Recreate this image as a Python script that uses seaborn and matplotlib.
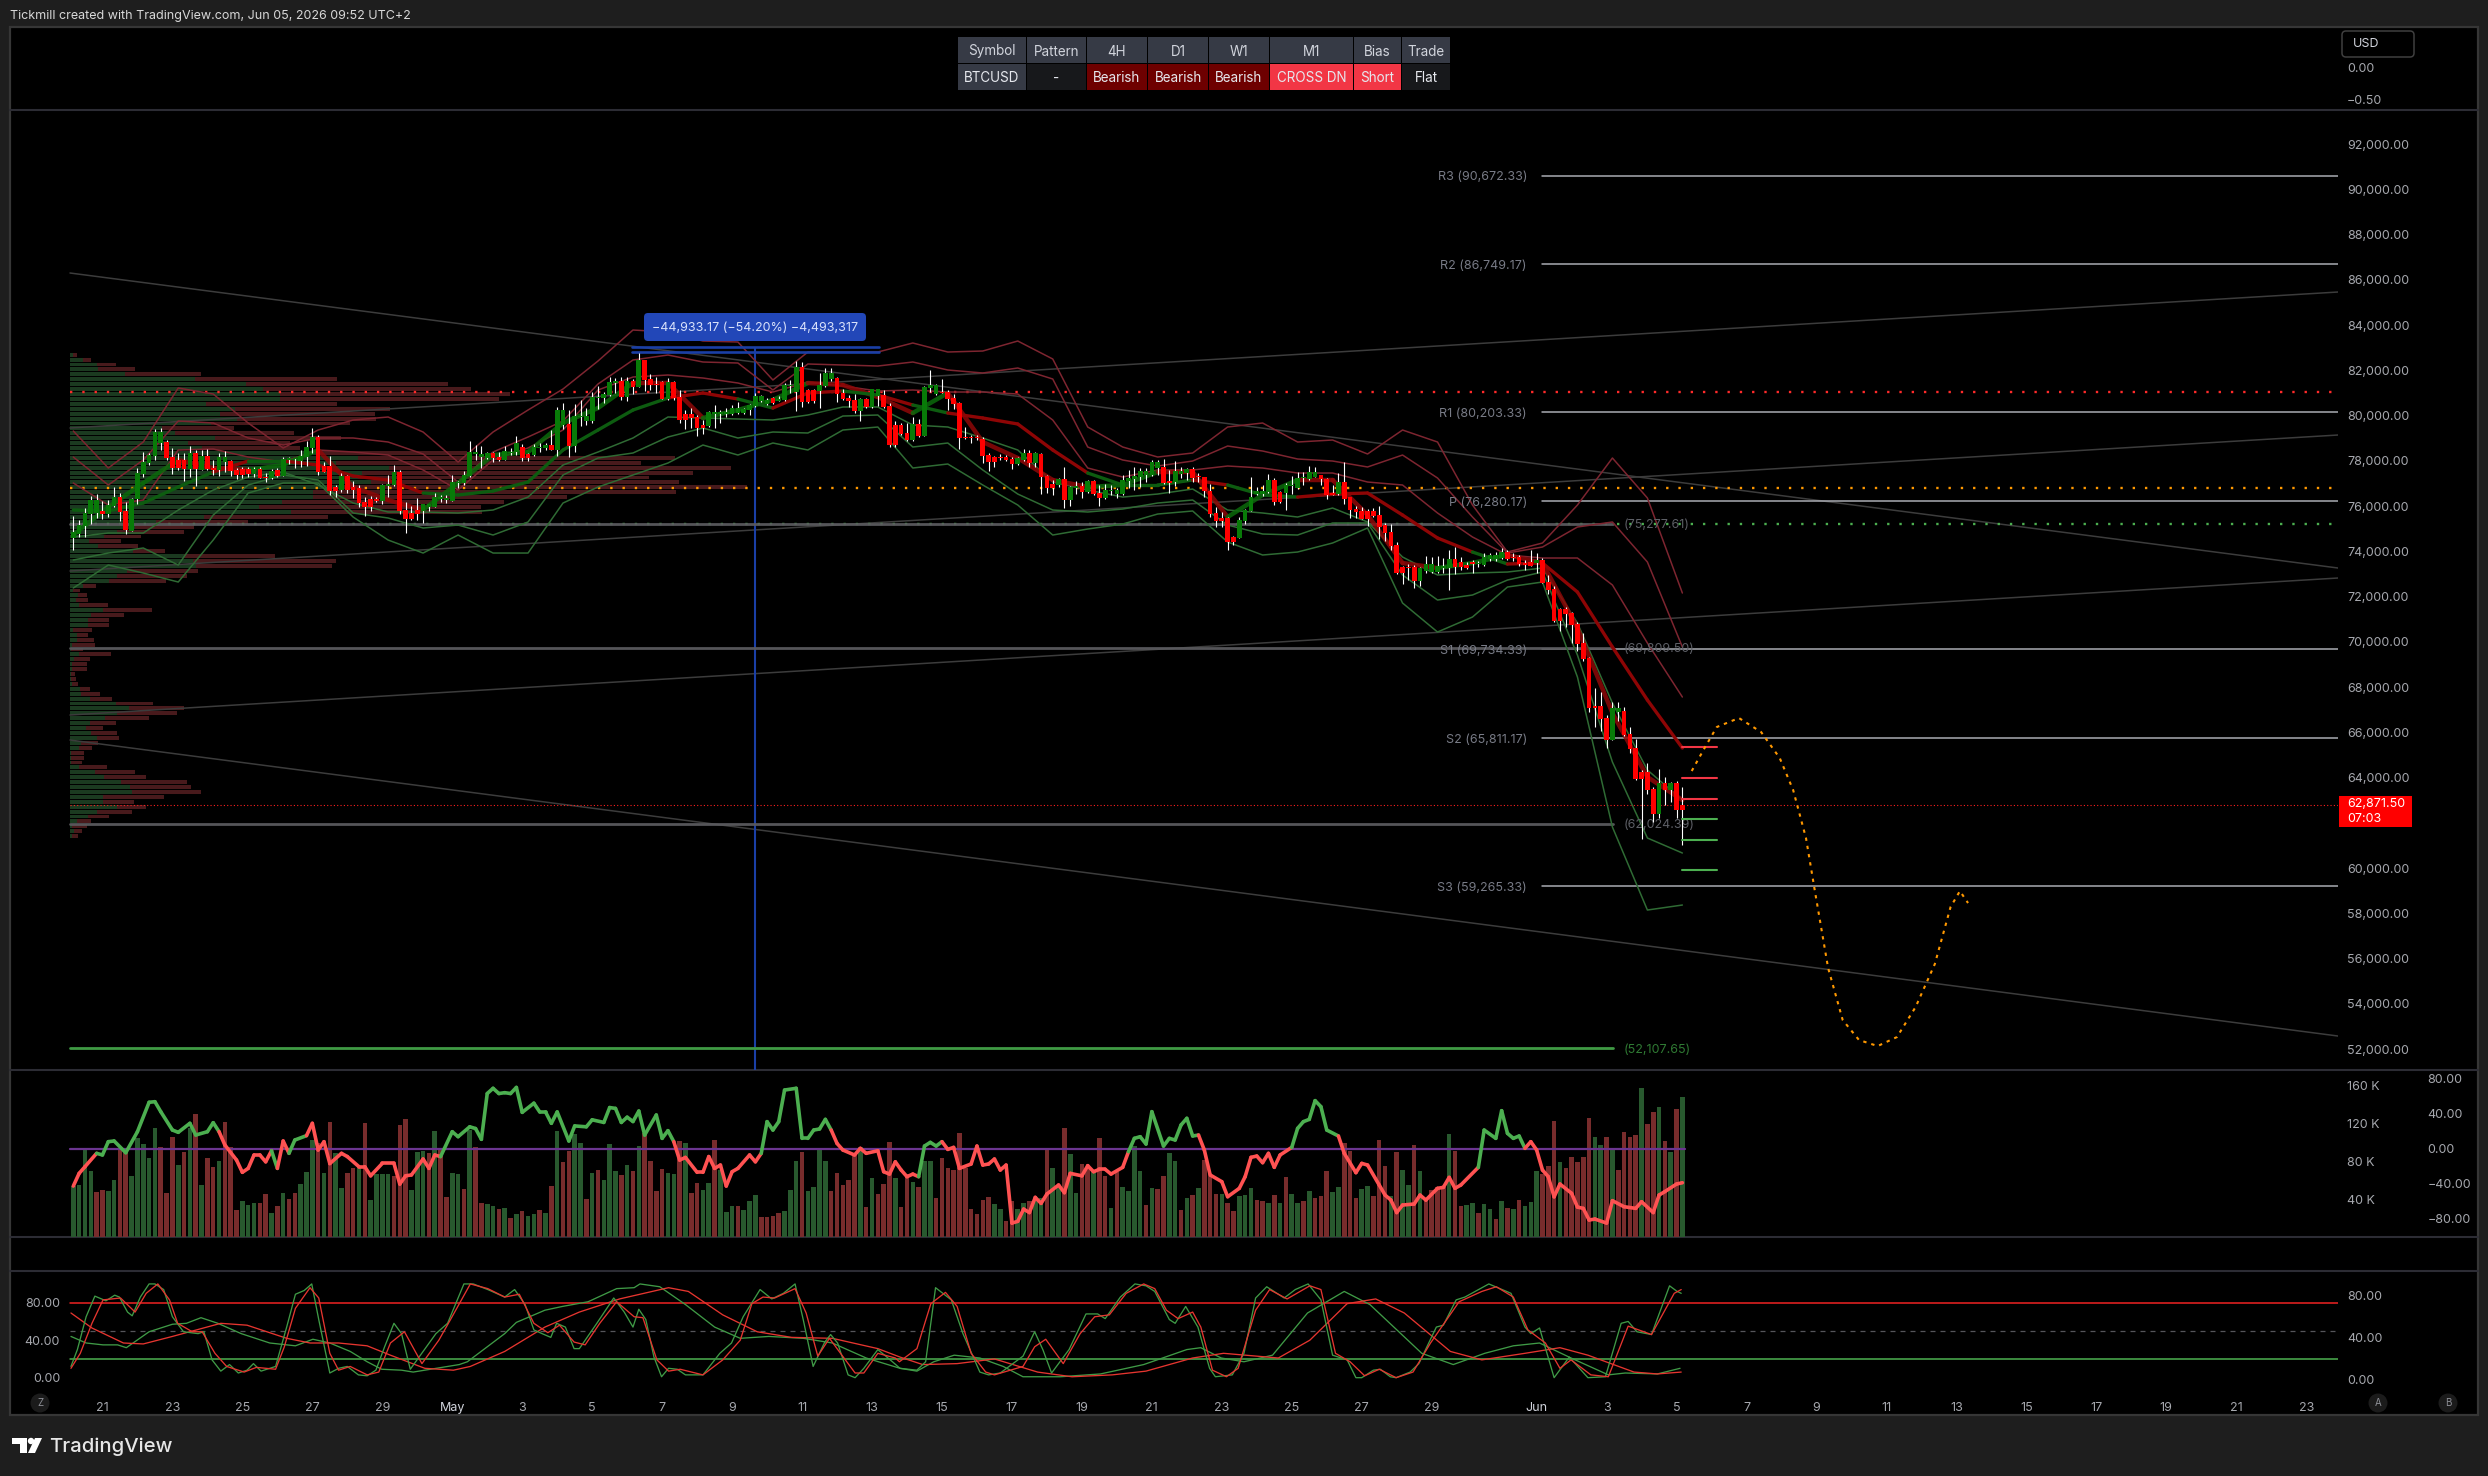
import numpy as np
import matplotlib
matplotlib.use("Agg")
import matplotlib.pyplot as plt
from matplotlib.collections import LineCollection
from matplotlib.patches import Rectangle, FancyBboxPatch, Polygon, Circle
from matplotlib.transforms import ScaledTranslation
import seaborn as sns

# ---- 4H candles, BTCUSD ----
body_open = [
74642,74819,75187,75718,75777,75850,75718,76071,76469,75850,
74952,76366,77485,77971,78281,78855,78899,78236,78104,78104,
77706,78413,77662,78281,77750,77662,78015,78045,77662,77706,
77706,77485,77706,77353,77309,77662,77397,78104,78133,78074,
78236,78634,79120,77839,77854,76911,76778,77397,76896,76867,
76248,76380,76366,76292,76955,77000,77574,75894,75762,75894,
75850,76027,76027,76380,76336,76292,77073,77073,77397,78369,
78222,78192,78428,78252,78104,78399,78458,78664,78369,78325,
78649,78649,78752,78546,79636,79695,78723,80005,79827,79827,
80829,80844,80991,81507,81595,80888,81595,81330,82523,81684,
81463,81551,80800,81551,80888,80137,80137,80005,79651,79607,
80137,80137,80137,80137,80166,80166,80314,80490,80726,80579,
80829,80726,80756,81374,81109,82199,81198,81198,81153,81374,
81684,81728,81065,80844,80756,80269,80800,80446,80932,80977,
80490,79651,79651,79297,78988,79695,79164,81286,81020,81109,
81109,80844,80623,79106,79106,79106,79032,78325,78236,78236,
78236,78148,77927,78104,78413,77971,78369,77397,77043,77000,
77264,76336,76866,76955,76675,77176,76646,76425,76719,76601,
76601,77176,77264,77353,77426,77441,77750,77794,77176,77132,
77485,77529,77706,77397,77338,76734,75762,75541,75541,74701,
74657,75408,75850,76601,76601,76675,77220,76690,76660,76955,
76866,77294,77250,77338,77427,77264,76631,76602,77132,76469,
75939,75850,75850,75850,75659,75232,74922,74348,73376,73376,
73376,72757,73199,73155,73155,73331,73331,73729,73597,73464,
73597,73494,73464,73729,73715,73759,74039,73832,73818,73553,
73597,73538,73685,72713,72404,71520,71520,71343,70857,70017,
69355,67233,67233,66703,65731,66968,67012,65996,65377,64317,
64317,63566,62461,63816,63521,63816,62871.5]
body_close = [
74907,75232,75747,76336,76336,75732,76115,76469,75806,75011,
76366,77529,78015,78325,79341,79341,78192,77750,77750,77706,
78413,77706,78281,77706,77662,78236,78236,77618,77426,77426,
77485,77706,77309,77309,77603,77397,78148,78177,78177,78281,
78678,79120,77574,77574,76734,76734,77397,76778,76778,76189,
76027,76027,76307,77000,77043,77574,75850,75497,75497,75732,
76159,76159,76469,76469,76425,77132,77132,77441,78457,78457,
78369,78399,78192,78119,78487,78458,78841,78192,78192,78664,
78693,78752,78546,80314,80314,78723,80049,80049,80049,80888,
80888,81021,81551,81595,80888,81595,81330,82523,81639,81418,
81418,80800,81551,80844,79872,79872,79960,79518,79518,80225,
80225,80225,80240,80402,80387,80343,80535,80932,80932,80756,
80638,80785,81418,81418,82199,80667,80667,80711,81418,81963,
81963,81021,80800,80711,80269,80800,80446,81242,81242,80446,
78767,78767,79253,78988,79695,79164,81330,81418,81418,81050,
80799,80579,79076,79076,79076,79076,78281,78015,78015,78192,
78104,77927,78192,78413,77971,78413,77353,76866,76866,77264,
76336,76911,76955,76690,77176,76601,76425,76778,76778,76778,
77220,77309,77397,77618,77618,78015,78015,77088,77088,77618,
77618,77706,77309,77338,76719,75718,75408,75408,74480,74480,
75452,75894,76469,76734,76734,77220,76248,76248,77000,77014,
77294,77338,77574,77574,77250,76558,76558,77132,76381,75895,
75806,75497,75497,75630,75144,74878,74304,73111,73111,73331,
72757,73331,73508,73508,73420,73420,73729,73376,73376,73331,
73508,73538,73818,73906,73906,74039,73729,73759,73508,73464,
73420,73685,72669,72360,70990,70990,71299,70813,69973,69311,
67145,67145,66659,65731,67145,67145,65952,65333,64008,64008,
63521,62461,63831,63521,63831,62638,62638]
wick_high = [
75644,75452,75968,76513,76601,76292,76336,76896,76631,76248,
76425,77736,78457,78398,79459,79503,78988,78634,78398,78398,
78723,78546,78546,78575,78104,78398,78502,78104,77750,77809,
77809,77809,77809,77515,77721,77736,78251,78222,78177,78546,
78944,79518,79209,78015,78281,77000,77515,77441,77176,77000,
76483,76513,76483,77043,77441,77883,77662,76248,76071,76425,
76159,76159,76631,76557,76557,77441,77176,77618,78944,78767,
78723,78472,78472,78472,78723,78620,79165,78811,78428,78811,
78870,78841,79430,80461,80608,80314,80564,80756,80387,81124,
81374,81124,81757,81713,81757,81757,81669,82818,82523,81905,
81787,81610,81713,81610,81198,80314,80387,80093,79872,80255,
80535,80314,80387,80535,80667,80387,80579,81080,80962,80829,
80873,80932,81522,81639,82494,82435,81227,81227,81934,82170,
82170,81787,81227,80977,81021,80844,80844,81256,81256,81198,
80608,79827,79754,79724,80019,79901,81374,82081,81462,81668,
81197,81020,80667,79577,79209,79209,79135,78398,78281,78369,
78310,78222,78222,78590,78546,78472,78428,77426,77220,77294,
77794,76955,77176,77146,77220,77220,77000,77043,77000,76852,
77426,77662,77794,77736,77736,78104,78104,78148,77662,78059,
77809,77750,77809,77515,77367,77043,76042,75821,75570,74745,
75600,75924,77353,76925,77000,77485,77294,76719,77073,77397,
77574,77589,77839,77780,77441,77294,76999,77544,78001,76484,
76071,76042,75924,75968,76071,75306,75261,74495,73420,73508,
73450,73391,73862,73832,73862,73759,74127,74274,73803,73612,
73685,73656,73980,74009,74053,74201,74127,73980,73906,73685,
74127,74009,73759,73022,72536,71549,71623,71402,70960,70445,
69414,68029,67852,66836,67425,67410,67204,66291,65760,64405,
64700,63669,64435,64111,63890,63904,63669]
wick_low = [
74127,74716,74716,75276,75526,75497,75570,76042,75423,74834,
74952,76159,77338,77883,78104,78546,78104,77485,77662,77191,
77367,76970,77662,77662,77426,77397,77588,77397,77250,77294,
77367,77367,77309,77132,77250,77367,77397,77927,77750,77809,
77839,78398,77441,77574,76557,76483,76690,76631,76425,76042,
75629,75865,76262,76159,76483,76955,75718,74893,75452,75452,
75305,75865,76027,76263,76189,76292,76867,77000,77367,78104,
77750,78134,78016,78075,78104,78325,78325,78075,78075,78281,
78472,78546,78546,78281,79459,78222,78458,79607,79651,79754,
80343,80608,80932,81050,80756,80711,81021,81315,81168,81198,
81050,80785,80756,80756,79725,79489,79504,79165,79253,79577,
79518,79725,79990,80108,80137,80137,80093,80461,80682,80535,
80579,80726,80726,81050,80284,80461,80608,80608,80402,81345,
81595,80667,80756,80461,80196,79828,80402,80402,80490,80417,
78664,78664,79209,78958,78958,79135,79164,81109,80976,81050,
80313,80343,78590,79017,78840,78988,77986,77618,77780,78104,
78074,77706,77897,78074,77794,77809,76601,76631,76557,76925,
75983,76071,76601,76410,76631,76557,76071,76380,76557,76410,
76557,76852,76778,76896,77146,77397,77441,77043,76646,76955,
77309,77220,77132,77132,76483,75570,75128,75128,74127,74348,
74642,75276,75835,76557,76513,76660,76115,76218,75894,76601,
76837,77000,77220,77338,76999,76381,76543,76558,76160,75526,
75541,75497,75188,75571,74628,74525,74127,73066,72625,72801,
72448,72536,73096,73096,73126,73096,72360,73066,73243,73273,
73096,73391,73420,73656,73656,73715,73685,73656,73420,73243,
73420,73096,72654,72183,70960,70562,70739,70003,69679,69237,
66983,66291,66143,65377,65731,66585,65908,65171,63963,61342,
63345,62122,62269,62858,63006,62269,61092]

# ---- volatility bands and moving averages, one reading per day ----
band_upper_3 = [79385,77750,78899,81285,81020,79739,78634,79429,79871,80004,79341,78015,
    79341,80313,81241,82478,83848,83760,83362,83318,81639,82876,82876,82876,83274,82876,
    82920,83362,82567,79562,78678,78236,78413,79562,79739,78899,78987,78369,79429,78899,
    76115,74038,74436,76115,78192,76424,72226]
band_upper_2 = [78236,76999,78104,79827,79739,79076,78766,79076,79076,78899,78369,77131,
    78457,79120,79827,81462,82522,82743,82434,82390,81197,82346,82302,82257,82434,82081,
    81948,82169,81683,78678,78104,77838,78059,78722,78501,78148,78059,77795,78324,77308,
    75584,73993,74259,75143,75364,73596,69840]
band_upper_1 = [77087,76115,76336,78546,78590,78236,78015,78546,78457,78324,77662,76778,
    78104,78634,79429,81197,81771,81860,81727,81506,81108,81550,81374,81153,81197,81108,
    81108,81020,79871,77750,77352,77662,77662,77838,77750,77529,77529,77131,76999,75762,
    74701,73906,73773,73773,72580,70017,67630]
basis_line = [75894,75850,76203,76910,77573,78059,78059,77883,77397,77220,76645,76557,
    76734,77131,78546,79429,80313,80843,81064,80799,80401,81064,81153,80976,80534,80181,
    79960,79695,78546,77529,76999,76999,77220,76999,76557,76467,76600,76645,75673,74657,
    74038,73508,73552,72270,69840,67498,65377]
fast_line = [74789,76027,77087,78104,77750,77662,77883,78546,76910,76336,75894,77087,
    78324,78457,79739,80401,81506,81506,79960,80313,80755,81506,81418,80887,80181,81064,
    78899,78192,77220,76910,76999,77573,77573,75584,76557,77220,77220,75673,73552,73331,
    73552,73906,73552,70679,66923,64095,63079]
band_lower_1 = [74701,74877,74877,75894,76778,77352,77573,76999,76203,75806,75806,75762,
    75894,76467,77883,78457,79076,80004,79960,79916,79871,80092,80446,80446,79650,79562,
    79076,78546,77131,76778,76467,76600,76822,75894,75762,75584,75982,75364,73817,73022,
    73110,73154,73331,70900,67366,64405,63079]
band_lower_2 = [73685,73993,74215,73464,75673,76999,77441,77220,75762,75541,75099,75231,
    74789,75364,77441,78192,78413,79120,79518,79076,79341,79297,80047,80092,78678,78855,
    77662,76600,75894,75806,75938,76203,76336,75231,74833,74789,75320,75320,73022,71917,
    72138,72800,73154,69486,64758,61400,60737]
band_lower_3 = [72447,73464,73110,72712,74568,76645,77087,77087,75584,74568,73993,74789,
    73993,73993,76203,76910,77441,77971,78766,78324,78855,78546,79429,79562,77750,77927,
    76999,76115,74789,75054,75275,75717,75850,74480,73906,74038,74436,75099,71784,70503,
    71166,72491,72712,68514,61885,58218,58439]

# ---- session volume profile, finest rows at 217 USD ----
profile_buy = [7,30,60,63,123,280,395,433,470,470,305,370,335,375,315,205,235,325,265,295,
    555,645,595,715,655,645,675,605,545,545,475,423,495,300,193,145,105,77,42,63,140,255,
    275,282,127,105,88,30,7,17,13,20,75,47,40,40,7,15,15,5,2,21,10,5,5,3,3,5,22,25,45,103,
    133,105,78,45,35,47,60,25,20,3,3,3,21,57,77,115,135,138,75,73,105,60,40,15,5,10,5]
profile_sell = [8,17,43,82,170,318,452,465,515,491,293,347,348,310,312,162,267,282,228,220,
    335,710,684,765,740,652,689,912,812,568,497,498,428,278,205,133,150,81,72,90,73,205,
    320,305,159,156,126,28,15,20,27,66,108,73,48,48,43,25,38,50,28,70,35,33,34,8,10,12,23,
    43,50,84,122,134,98,57,40,58,50,38,30,29,28,24,62,88,94,146,135,156,135,70,66,78,48,
    32,34,17,12]

# ---- price levels ----
pivot_names = ["R3", "R2", "R1", "P", "S1", "S2", "S3"]
pivot_levels = [90672.33, 86749.17, 80203.33, 76280.17, 69734.33, 65811.17, 59265.33]
range_levels = [75277.61, 69809.50, 62024.39]
range_low = 52107.65
last_price = 62871.50
poc_red, poc_orange = 81117, 76871
target_short = [65420, 64050, 63146]
target_long = [62261, 61310, 59985]

# ---- forecast path ----
path_bars = [277.6,279.9,281.9,285.7,289.5,292.7,295,297.2,298.7,301,303.5,306.3,309.5,312.8,316,319.3,322,323.6,325]
path_price = [64361,65420,66304,66702,66084,64934,63521,61400,59101,55655,53357,52473,52207,52605,53930,55831,58350,59056,58527]

# ---- volume (thousands) and its direction ----
volume_k = [
54,55,92,69,47,50,48,60,94,92,64,104,98,83,115,95,46,105,76,90,115,130,55,83,74,80,121,95,28,38,
34,36,36,45,25,33,46,40,46,56,68,102,99,67,121,88,52,67,73,73,120,39,66,66,66,64,118,124,50,90,
91,88,112,94,42,67,66,51,113,95,36,35,33,30,31,20,24,27,22,24,28,25,54,112,79,91,108,99,40,67,
71,60,98,70,65,76,70,96,109,80,48,72,67,66,101,99,46,57,50,57,102,71,26,33,33,28,38,44,21,21,
22,25,27,49,80,89,48,53,94,80,48,67,55,60,87,95,32,62,45,56,100,62,32,66,58,53,80,80,41,83,
73,71,110,73,29,24,39,42,35,29,17,38,30,36,38,38,41,93,73,55,115,87,46,77,74,69,104,64,31,68,
53,48,96,69,34,52,51,64,88,80,28,41,44,52,81,64,45,45,36,27,43,44,52,39,38,36,44,36,63,45,
36,38,48,41,43,69,47,53,99,91,41,51,54,43,102,75,43,90,71,55,97,69,39,49,53,53,108,91,33,34,
36,25,35,29,19,38,31,30,39,33,37,70,66,75,122,79,73,84,79,84,125,105,97,105,93,71,111,105,107,157,
119,132,137,101,89,135,147]
volume_dir = ("ggggrrggrr" "gggggrrrgr" "grgrrgrrrg" "ggrrgrgrrg" "ggrgrggrrg" "rggggrrrgg" "grgrrggrgr"
              "rggrgrgrgg" "rgrgrrggrg" "rgggrgrgrr" "rrggrgrrgg" "rgggrgggrr" "rrgggrgggg" "rrrrrgrgrr"
              "rgrrgrggrr" "rrrrrrrrgg" "rrggrggrgg" "rggrrgrrgr" "ggggrgrrgg" "rgrgrrrgrr" "gggrrgrgrg"
              "grgrrrggrr" "rggrrrgrgg" "rgrrrrgrrg" "grggrgrgrg" "ggrrrgrrrr" "rggrgrrrrg" "rrgrgrg")

# ---- momentum oscillator ----
osc_bars = [0,1,2,4,5,6,7,9,11,13,14,15,17,18,20,21,23,24,25,26,28,29,30,31,32,33,34,35,36,37,38,40,41,42,43,44,46,47,49,50,
    51,53,55,56,57,58,60,61,62,63,65,66,68,69,70,71,72,73,74,75,76,77,79,80,81,82,83,85,86,88,89,91,92,93,94,95,96,97,98,100,
    101,102,103,104,105,107,108,109,110,111,112,113,114,116,117,118,119,120,121,122,124,125,126,127,128,129,130,131,132,134,135,136,138,139,140,141,142,
    143,144,145,146,147,148,149,150,151,152,154,155,156,157,158,159,160,161,162,163,164,165,166,167,169,170,171,173,174,175,176,177,178,180,181,182,183,184,185,
    187,188,189,190,191,192,193,194,195,197,198,200,201,202,203,204,205,206,207,209,210,211,212,213,214,215,217,218,220,221,222,224,225,226,227,228,230,231,232,234,235,236,237,238,
    241,242,244,245,246,247,248,249,250,251,252,253,254,255,257,258,259,260,261,263,264,266,268,269,271,272,273,275,276]
osc_values = [-42.7,-28.2,-20.6,-5.3,-7.2,8,8.8,-4.6,19.4,53,53.7,42.3,21.3,18.7,29,15.6,19.4,29.7,19.4,4.2,-13,-27,-22.5,-7.2,-7.2,-15,-2.3,-22.5,8.8,-5.3,9.9,14.9,29,-1.5,8,-17,-5.3,-9,-20.6,-20.6,
    -31,-16.8,-16.8,-40.4,-31,-30,-11.8,-22.5,-7.2,-9,19.4,13.7,25,23,10.7,63,69,63,64,63,70,41.5,52,42,42,29,42,8.8,26,25,33,30,47,46,30,36,31,43,15.6,38.5,
    11.8,20.6,8,-13,-10,-27,-27,-9,-22.5,-18.7,-42.7,-26.3,-22.5,-7.2,-15,-5.3,30.9,21.3,30.9,67,69,11.8,11.8,21.3,22.5,33.5,21.3,6,-1.5,-7.2,0.4,-5.3,-2.3,-26.3,-29,-15,-24.4,
    -32,-29,-32,3,7.2,3,8,-0.8,1.5,-22.5,-17.5,3,-18.7,-17.5,-11.8,-24.4,-18.7,-85,-83,-69,-73,-55.6,-62.5,-51.8,-41.5,-50.3,-28.2,-31,-19.4,-26.3,-23.6,-23.6,-29,-21.3,-3.4,11.8,13.7,5.3,42.3,
    3,11.8,9.9,27,34.7,14.5,15.6,-1.5,-30,-37.7,-54.9,-45.3,-32,-9.9,-8.4,-16,-5.3,-21.3,-7.2,1.5,23.2,30.9,33.5,54.9,48,21.3,14.5,-5.3,-27.4,-16.8,-18.7,-41.5,-53,-58.7,-73,-64.4,-63.2,-53,-58.7,-45.3,-44.2,-32.8,-45.3,-41.5,
    -21.3,21.3,11.8,43.4,17.5,11.8,14.5,0.4,8,-1.5,-24.4,-32,-55,-40.4,-51,-66.7,-68.2,-81.5,-80.4,-85,-59.4,-66.3,-68.2,-60.6,-73,-53,-49,-40.4,-38.9]
osc_bull_spans = [(4,25),(34,35),(37,40),(63,103),(118,130),(145,149),(181,193),(209,216),(241,249)]

# ---- stochastic RSI pairs ----
stoch_k_bars = [-0.4,0.7,2.2,3.7,5.6,7.1,7.9,9.3,10.1,11.5,13,14,15.5,17,18.9,21.4,22.4,23.8,25.3,26.8,28.3,29.8,30.9,32.2,34.7,36.6,38.1,39.6,40.9,42.1,44,45.5,47,48.9,50.4,51.9,53.4,55,56.3,57.8,59.3,62.2,64.2,67,68.6,71.1,74,75.7,77.5,79,80.4,81.9,82.9,84.4,85.9,86.8,89.8,92.7,94.5,96,97,98.2,99.6,100.9,102.1,103.6,105,108,110.9,112.9,114.9,117.8,119.8,121.8,123.8,125.2,126.9,128.9,129.9,131.1,132.9,134.1,135.6,138,140.5,141.8,
    144.7,146.2,147.9,150.6,152.6,155.5,157,159,162.9,164.9,166.3,167.8,170.8,173.7,175.7,177,179.6,182.1,184,185.5,188,189,190.8,192.9,194.9,195.9,198.8,200.8,202.8,204.7,207.7,209.6,211.8,214,216,218.5,220,221,223,224.2,225.9,226.9,229.3,230.8,233.8,235,237.2,238.7,242.8,246.6,249,250,251.5,254,256.6,259.8,262.8,265.5,266.7,268.2,270.7,273.8,275.1,275.8]
stoch_k_values = [12,30,65,87,82,88,86,70,66,86,100,100,94,65,49,47,49,19,7,14,5,8,15,7,12,54,89,93,100,62,5,10,12,3,2,8,33,58,47,9,22,47,58,100,100,94,86,94,78,51,47,43,58,54,31,31,58,85,70,54,73,62,22,1,10,9,3,3,26,37,65,94,84,90,100,62,12,38,46,37,3,0,10,30,17,10,
    8,17,96,83,47,6,3,5,23,49,30,5,30,68,68,63,86,100,98,92,62,58,76,54,10,1,3,26,85,97,85,94,100,83,24,19,0,0,8,9,1,0,6,15,54,56,83,86,100,90,54,47,53,0,22,0,1,58,60,49,46,98,92,90]
stoch_d_bars = [-0.4,1.2,3.2,5.1,8.1,10.6,12.5,14.5,16.5,17.9,20.4,22.1,24.3,26.3,29.3,31.4,34.7,36.2,38.1,40.6,42.1,44,45.5,47.5,50.4,52.4,54.4,56.8,59.8,62.7,64.7,68.1,71.1,74,76.5,79,81.4,83.4,85.9,87.8,90.3,93.2,96.2,97.7,100.1,102.1,104.1,108,111.4,114.4,116.4,118.3,120.3,123.8,125.7,127.7,129.7,131.6,134.1,135.6,138,141,
    141.7,144.7,147.1,149.6,151.6,154,156.5,158,162.9,164.9,166.8,169.8,172.7,175.2,177.7,180.6,183.6,185.5,187.5,189.5,192,193.4,195.4,197.8,199.8,202.8,205.2,208.2,212.1,214,216.5,219,221.5,224,226.9,229.8,232.8,237.7,241.6,244.1,247,249.5,252.5,255,256.9,260.3,263.3,266.7,270.7,274.6,275.8]
stoch_d_values = [10,26,58,83,85,70,90,100,83,58,49,49,26,12,6,11,9,33,74,96,85,26,8,12,3,6,37,49,15,40,62,100,95,86,89,58,48,56,38,35,58,81,65,64,19,7,9,3,19,40,79,86,85,95,69,23,42,26,5,5,26,21,
    17,31,79,91,76,26,6,3,12,33,41,15,47,65,67,90,100,95,72,63,70,54,8,1,10,72,94,84,98,94,26,17,2,9,0,6,37,81,92,97,86,51,37,10,19,3,1,55,46,90,94]
slow_k_bars = [-0.4,2.2,5.1,7.6,9.1,13,17,19.4,21.9,24.8,28.8,33.7,38.1,41.1,44,47.5,50.4,52.9,56.3,58.3,66.2,67.6,74,76,80.9,83.9,88.3,93.2,96.2,97.2,100.6,105,110,114.4,119.3,125.2,130.2,136,141.8,
    144.7,147.6,151.1,155.5,159.5,162.9,169.3,176.2,183.6,191,193.4,196.9,200.8,205.7,211.7,218,222.4,231.3,236.7,242.1,247,251.5,256.9,263.3,266.2,271.7,275.6]
slow_k_values = [44,37,35,35,32,49,57,58,64,58,47,37,34,41,37,28,17,9,8,6,14,17,47,59,72,76,81,95,96,100,97,78,54,42,44,42,37,21,10,
    7,17,24,21,12,1,1,4,14,30,32,21,17,24,69,92,78,26,14,26,34,37,21,3,5,4,10]
slow_d_bars = [-0.4,3.2,8.6,12,17,25.3,29.8,36.6,40.6,45.5,50.4,54.4,60.3,65.2,68.1,74,80.9,86.8,93.7,102.1,105.5,111.4,117.3,123.2,130.2,138,141.8,
    145.7,151.6,158,165.4,171.3,178.2,184,192,197.3,206.7,212.1,218.5,223.4,228.3,236.2,241.6,249,255,259.8,267.7,271.7,275.8]
slow_d_values = [69,53,37,36,44,58,56,42,37,37,34,24,10,8,12,28,54,70,84,96,92,67,49,43,42,31,22,
    14,15,20,6,1,3,7,21,26,21,40,79,84,69,28,19,26,32,24,6,4,6]

# ---- dashboard table ----
table_head = ["Symbol", "Pattern", "4H", "D1", "W1", "M1", "Bias", "Trade"]
table_row = ["BTCUSD", "-", "Bearish", "Bearish", "Bearish", "CROSS DN", "Short", "Flat"]
table_fill = ["#363a45", "#17181b", "#6e0000", "#6e0000", "#6e0000", "#f23645", "#f23645", "#17181b"]
table_edges = [958, 1027, 1087, 1148, 1209, 1270, 1354, 1402, 1451]

# ---- axis labels ----
price_ticks = [v for v in range(52000, 92001, 2000) if v != 62000]  # 62,000 sits under the last-price tag
volume_ticks = [40, 80, 120, 160]
osc_ticks = [-80, -40, 0, 40, 80]
tick_days = list(range(0, 39, 2)) + list(range(41, 64, 2))
tick_names = ["21","23","25","27","29","May","3","5","7","9","11","13","15","17","19","21","23","25","27","29",
              "Jun","3","5","7","9","11","13","15","17","19","21","23"]

sns.set_theme(style="dark")
plt.rcParams["font.family"] = ["Inter", "DejaVu Sans"]
plt.rcParams["axes.unicode_minus"] = False

W, H = 2488, 1476
CHROME, FRAME, AXIS_TXT = "#1e1e1e", "#363636", "#a6a8ae"
GREEN, RED = "#087b08", "#ff0000"
FS = 9
fig = plt.figure(figsize=(W / 100, H / 100), dpi=100, facecolor=CHROME)


def pane(x0, y0, x1, y1, **kw):
    a = fig.add_axes([x0 / W, 1 - y1 / H, (x1 - x0) / W, (y1 - y0) / H], **kw)
    a.patch.set_alpha(0)
    for s in a.spines.values():
        s.set_visible(False)
    a.grid(False)
    return a


def line(ax, x, y, color, lw, ls="-", z=3, alpha=1.0):
    sns.lineplot(x=np.asarray(x, float), y=np.asarray(y, float), ax=ax, color=color, linewidth=lw,
                 linestyle=ls, estimator=None, sort=False, errorbar=None, legend=False, zorder=z, alpha=alpha)
    ax.set_xlabel("")
    ax.set_ylabel("")


def colored(ax, x, y, colors, lw, z, alpha=1.0):
    pts = np.column_stack([x, y])
    segs = np.stack([pts[:-1], pts[1:]], axis=1)
    ax.add_collection(LineCollection(segs, colors=colors, linewidths=lw, zorder=z, alpha=alpha, capstyle="round"))


def nudge_labels(labels, px):
    """Shift text upward by px device pixels."""
    for t in labels:
        t.set_transform(t.get_transform() + ScaledTranslation(0, px * 0.72 / 72, fig.dpi_scale_trans))


# chrome underlay: black panel, frame and pane separators
base = pane(0, 0, W, H, zorder=0)
base.set_xlim(0, W)
base.set_ylim(H, 0)
base.axis("off")
base.add_patch(Rectangle((10, 27), 2468, 1388, fc="black", ec=FRAME, lw=1.6))
for y in (110, 1070, 1237, 1271):
    base.plot([10, 2478], [y, y], color="#2c2c34", lw=1.5)

PX0, PX1 = 10, 2338
BAR0, BAR_W = 73.3, 5.83
xmin, xmax = (PX0 - BAR0) / BAR_W, (PX1 - BAR0) / BAR_W
to_bar = lambda px: (px - BAR0) / BAR_W

bars = np.arange(len(body_open))
knots = np.arange(0, len(body_open), 6)
o, c = np.array(body_open, float), np.array(body_close, float)
hi, lo = np.array(wick_high, float), np.array(wick_low, float)

# ---- main price pane ----
ax = pane(PX0, 110, PX1, 1070, zorder=2)

rows = 82757 - 217.1 * np.arange(len(profile_buy))
unit = 1 / (2.24 * BAR_W)
left = to_bar(70)
buy = np.array(profile_buy) * unit
sell = np.array(profile_sell) * unit
ax.barh(rows, buy, left=left, height=172, color="#1b3a20", zorder=1, linewidth=0)
ax.barh(rows, sell, left=left + buy, height=172, color="#481a1c", zorder=1, linewidth=0)

# long trend lines spanning the pane
trend_lines = [
    ((70, 86367), (2338, 73331)), ((70, 79518), (2338, 85527)), ((70, 73199), (2338, 79208)),
    ((70, 66835), (2338, 72889)), ((70, 65730), (2338, 52650)),
]
for (x0, p0), (x1, p1) in trend_lines:
    ax.plot([to_bar(x0), to_bar(x1)], [p0, p1], color="#3c3c3c", lw=1.1, zorder=2)

ax.plot([left, xmax], [poc_red, poc_red], color="#ff2a2a", lw=1.7, ls=(0, (1, 4.2)), zorder=3)
ax.plot([left, xmax], [poc_orange, poc_orange], color="#ff9800", lw=1.7, ls=(0, (1, 4.2)), zorder=3)
ax.plot([left, xmax], [range_levels[0]] * 2, color="#4caf50", lw=1.7, ls=(0, (1, 4.2)), zorder=3)
ax.plot([left, xmax], [last_price, last_price], color="#ff2020", lw=0.8, ls=(0, (1, 2)), zorder=3)

end_lvl = to_bar(1613)
label_drop = 65
for v in range_levels:
    ax.plot([left, end_lvl], [v, v], color="#5a5a5e", lw=2.0, zorder=4, alpha=0.95)
    ax.text(to_bar(1624), v - label_drop, f"({v:,.2f})", color="#5d5f66", fontsize=FS, va="center", zorder=6)
ax.plot([left, end_lvl], [range_low, range_low], color="#3f9a44", lw=2.0, zorder=4)
ax.text(to_bar(1624), range_low - label_drop, f"({range_low:,.2f})", color="#2f7a33", fontsize=FS, va="center", zorder=6)

pivot_start = to_bar(1542)
for n, v in zip(pivot_names, pivot_levels):
    ax.plot([pivot_start, xmax], [v, v], color="#a9abb2", lw=1.1, zorder=3)
    ax.text(to_bar(1527), v - label_drop, f"{n} ({v:,.2f})", color="#787b86", fontsize=FS, ha="right", va="center", zorder=6)

# measured move marker
ax.plot([to_bar(755)] * 2, [51149, 83050], color="#1a3fa6", lw=1.5, zorder=3)
for v in (83097, 82898):
    ax.plot([to_bar(632), to_bar(878.6)], [v, v], color="#1a3fa6", lw=1.9, zorder=6)

# bands and moving averages
for series in (band_upper_3, band_upper_2, band_upper_1):
    line(ax, knots, series, "#7d2530", 1.1, z=5)
for series in (band_lower_1, band_lower_2, band_lower_3):
    line(ax, knots, series, "#2f6b34", 1.1, z=5)

fast = np.array(fast_line, float)
basis = np.array(basis_line, float)
fast_cols = ["#0b6a0b" if b > a else "#8e0808" for a, b in zip(fast[:-1], fast[1:])]
colored(ax, knots, fast, fast_cols, 3.2, 6, alpha=0.85)
basis_cols = ["#0d5c10" if c[k] > m else "#8e0505" for k, m in zip(knots[1:], basis[1:])]
colored(ax, knots, basis, basis_cols, 2.4, 6)

# candles
cols = [GREEN if b > a else RED for a, b in zip(o, c)]
ax.vlines(bars, lo, hi, color="white", lw=0.8, zorder=7)
bot = np.minimum(o, c)
ax.bar(bars, np.maximum(np.abs(c - o), 40), bottom=bot, width=0.8, color=cols, zorder=8, linewidth=0)

# targets and forecast
tick_x = [to_bar(1681.5), to_bar(1717)]
for v in target_short:
    ax.plot(tick_x, [v, v], color="#f23645", lw=1.5, zorder=9)
for v in target_long:
    ax.plot(tick_x, [v, v], color="#4caf50", lw=1.5, zorder=9)
line(ax, path_bars, path_price, "#ff9800", 1.5, ls=(0, (1.6, 2.4)), z=9)

ax.set_xlim(xmin, xmax)
ax.set_ylim(51149, 93570)
ax.yaxis.tick_right()
ax.set_yticks(price_ticks)
ax.set_yticklabels([f"{v:,.2f}" for v in price_ticks])
ax.tick_params(axis="y", length=0, pad=6.5, labelsize=FS, labelcolor=AXIS_TXT)
ax.tick_params(axis="x", bottom=False, labelbottom=False)
nudge_labels(ax.get_yticklabels(), 1.5)

# ---- volume and oscillator pane ----
axv = pane(PX0, 1070, PX1, 1237, zorder=2)
sns.barplot(x=bars, y=volume_k, hue=list(volume_dir), palette={"g": "#28592e", "r": "#782c2c"},
            native_scale=True, dodge=False, legend=False, width=0.78, saturation=1, ax=axv, linewidth=0, zorder=2)
axv.set_xlabel("")
axv.set_ylabel("")
axv.set_xlim(xmin, xmax)
axv.set_ylim(0, 175.8)
axv.yaxis.tick_right()
axv.set_yticks(volume_ticks)
axv.set_yticklabels([f"{v} K" for v in volume_ticks])
axv.tick_params(axis="y", length=0, pad=6.5, labelsize=FS, labelcolor=AXIS_TXT)
axv.tick_params(axis="x", bottom=False, labelbottom=False)

axo = pane(PX0, 1070, PX1, 1237, zorder=3)
axo.plot([-0.5, len(bars) - 0.5], [0, 0], color="#6b3590", lw=1.6, zorder=3)
ob = np.array(osc_bars, float)
ov = np.array(osc_values, float)
bull = [any(s <= m <= e for s, e in osc_bull_spans) for m in (ob[:-1] + ob[1:]) / 2]
colored(axo, ob, ov, ["#4caf50" if g else "#ff5252" for g in bull], 2.6, 4)
axo.set_xlim(xmin, xmax)
axo.set_ylim(-100.9, 89.9)
axo.yaxis.tick_right()
axo.set_yticks(osc_ticks)
axo.set_yticklabels([f"{v:.2f}" if v >= 0 else f"\u2212{-v:.2f}" for v in osc_ticks])
axo.tick_params(axis="y", length=0, pad=64.5, labelsize=FS, labelcolor=AXIS_TXT)
axo.tick_params(axis="x", bottom=False, labelbottom=False)

# ---- stochastic pane ----
axs = pane(PX0, 1271, PX1, 1388, zorder=2)
axs.plot([left, xmax], [80, 80], color="#f02323", lw=1.1)
axs.plot([left, xmax], [20, 20], color="#4caf50", lw=1.1)
axs.plot([left, xmax], [50, 50], color="#55555a", lw=0.9, ls=(0, (4, 4)))
line(axs, slow_k_bars, slow_k_values, "#3f9a46", 0.95, z=4)
line(axs, slow_d_bars, slow_d_values, "#e5352f", 0.95, z=4)
line(axs, stoch_k_bars, stoch_k_values, "#3f9a46", 0.95, z=5)
line(axs, stoch_d_bars, stoch_d_values, "#e5352f", 0.95, z=5)
axs.set_xlim(xmin, xmax)
axs.set_ylim(-11, 113.8)
axs.set_yticks([0, 40, 80])
axs.set_yticklabels(["0.00", "40.00", "80.00"])
axs.tick_params(axis="y", length=0, pad=-36, labelsize=FS, labelcolor=AXIS_TXT)
axs.set_xticks([5 + 6 * d for d in tick_days])
axs.set_xticklabels(tick_names)
axs.tick_params(axis="x", length=0, pad=10, labelsize=FS, labelcolor=AXIS_TXT, bottom=False)
for t in axs.get_xticklabels():
    if t.get_text() in ("May", "Jun"):
        t.set_color("#d1d4dc")

# ---- overlay: table, tags, captions ----
top = pane(0, 0, W, H, zorder=10)
top.set_xlim(0, W)
top.set_ylim(H, 0)
top.axis("off")
for i in range(len(table_head)):
    x0, x1 = table_edges[i], table_edges[i + 1] - 1
    top.add_patch(Rectangle((x0, 37), x1 - x0, 26, fc="#363a45", lw=0))
    top.add_patch(Rectangle((x0, 64), x1 - x0, 26, fc=table_fill[i] if i else "#363a45", lw=0))
    top.text((x0 + x1) / 2, 51.5, table_head[i], color="#d1d4dc", fontsize=FS + 0.7, ha="center", va="center")
    top.text((x0 + x1) / 2, 78.5, table_row[i], color="#e6e8ee", fontsize=FS + 0.7, ha="center", va="center")

top.add_patch(FancyBboxPatch((646, 315), 218, 24, boxstyle="round,pad=2,rounding_size=4", fc="#2247b8", ec="none"))
top.text(755, 328, "\u221244,933.17 (\u221254.20%) \u22124,493,317", color="#d9e2fb", fontsize=FS, ha="center", va="center")

top.add_patch(Rectangle((2339, 796), 73, 31, fc="#ff0000", lw=0))
top.text(2347, 804, f"{last_price:,.2f}", color="white", fontsize=FS, va="center")
top.text(2347, 819, "07:03", color="white", fontsize=FS, va="center")

top.add_patch(FancyBboxPatch((2344, 33), 68, 22, boxstyle="round,pad=2,rounding_size=4", fc="black", ec="#3f3f3f", lw=1.1))
top.text(2353, 44, "USD", color="#d1d4dc", fontsize=FS, va="center")
top.text(2347, 69, "0.00", color=AXIS_TXT, fontsize=FS, va="center")
top.text(2347, 101, "\u22120.50", color=AXIS_TXT, fontsize=FS, va="center")
for label, y in zip(["80.00", "40.00", "0.00"], [1296.7, 1338.7, 1380.7]):
    top.text(2347, y, label, color=AXIS_TXT, fontsize=FS, va="center")

for label, x in zip("ZAB", (40, 2378, 2448)):
    top.add_patch(Circle((x, 1403), 9.5, fc="#1b1b1b", ec="none"))
    top.text(x, 1403, label, color="#8d8f96", fontsize=FS - 2, ha="center", va="center")

top.text(10, 16, "Tickmill created with TradingView.com, Jun 05, 2026 09:52 UTC+2", color="#d8d8d8", fontsize=FS, va="center")
top.add_patch(Polygon([(12, 1438), (27, 1438), (27, 1453), (20, 1453), (20, 1444), (12, 1444)], fc="white", lw=0))
top.add_patch(Circle((31, 1441), 3.2, fc="white", lw=0))
top.add_patch(Polygon([(35, 1438), (42, 1438), (35, 1453), (28, 1453)], fc="white", lw=0))
top.text(49, 1447, "TradingView", color="#e6e6e6", fontsize=14.6, fontweight="medium", va="center")

fig.savefig("out.png", dpi=100, facecolor=CHROME)
